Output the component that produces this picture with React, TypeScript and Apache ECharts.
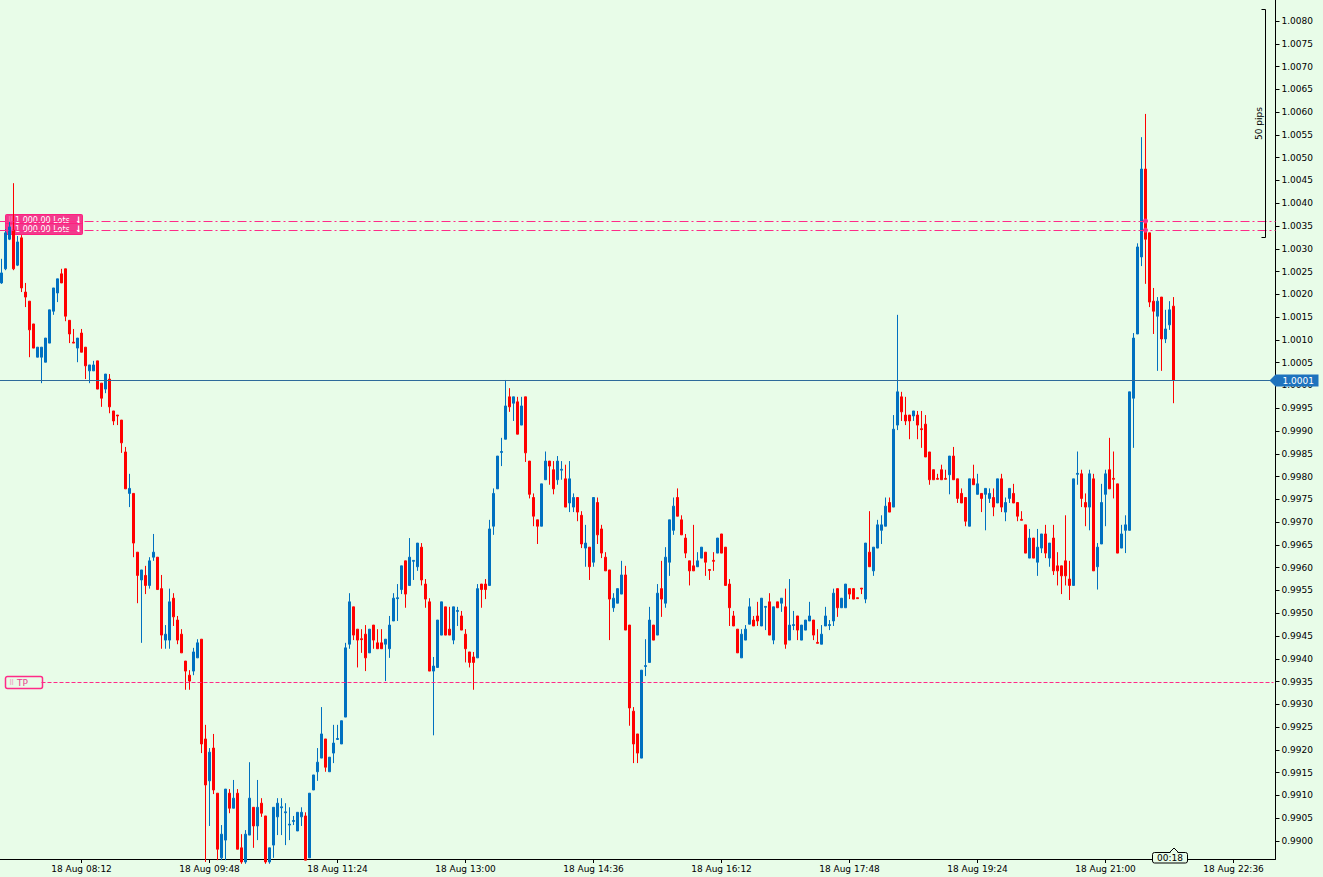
import React, { useEffect, useRef } from "react";
import * as echarts from "echarts";

// ---- axis domain ----
const sessionDate = "18 Aug";
const firstBarTime = "07:12";
const barMinutes = 3;
const slotCount = 319;
const axisMin = 0.989605;
const axisMax = 1.008461;

const xTickLabels = [
  "18 Aug 08:12", "18 Aug 09:48", "18 Aug 11:24", "18 Aug 13:00", "18 Aug 14:36",
  "18 Aug 16:12", "18 Aug 17:48", "18 Aug 19:24", "18 Aug 21:00", "18 Aug 22:36",
];

const priceTicks = [
  0.99, 0.9905, 0.991, 0.9915, 0.992, 0.9925, 0.993, 0.9935, 0.994, 0.9945,
  0.995, 0.9955, 0.996, 0.9965, 0.997, 0.9975, 0.998, 0.9985, 0.999, 0.9995,
  1.0, 1.0005, 1.001, 1.0015, 1.002, 1.0025, 1.003, 1.0035, 1.004, 1.0045,
  1.005, 1.0055, 1.006, 1.0065, 1.007, 1.0075, 1.008,
];

// ---- OHLC (3-minute bars from 07:12) ----
const open = [
  1.00225,1.00256,1.00321,1.00341,1.00264,1.00324,1.00205,1.00185,1.00135,1.00062,
  1.00062,1.00051,1.00093,1.00163,1.00203,1.00245,1.00256,1.00143,1.00095,1.00082,
  1.00115,1.00084,1.00032,1.00032,1.00054,1.00005,0.99992,1.00014,0.99944,0.99935,
  0.99924,0.99854,0.99763,0.99763,0.99634,0.99573,0.99583,0.99561,0.99623,0.99623,
  0.99554,0.99441,0.99441,0.99533,0.99485,0.99454,0.99395,0.99364,0.99373,0.99402,
  0.99443,0.99224,0.99132,0.99204,0.99105,0.98963,0.99002,0.99105,0.99072,0.99105,
  0.98985,0.98954,0.99013,0.99074,0.99033,0.99083,0.99055,0.98954,0.98991,0.99053,
  0.99073,0.99062,0.99035,0.99043,0.99022,0.99053,0.99055,0.98963,0.99112,0.99152,
  0.99182,0.99224,0.99152,0.99193,0.99223,0.99213,0.99272,0.99432,0.99514,0.99465,
  0.99444,0.99454,0.99413,0.99474,0.99435,0.99435,0.99432,0.99422,0.99483,0.99532,
  0.99552,0.99615,0.99561,0.99614,0.99602,0.99645,0.99564,0.99525,0.99373,0.99381,
  0.99452,0.99514,0.99465,0.99441,0.99504,0.99494,0.99454,0.99415,0.99404,0.99402,
  0.99564,0.99564,0.99561,0.99691,0.99773,0.99853,0.99882,0.99975,0.99961,0.99964,
  0.99913,0.99975,0.99834,0.99754,0.99705,0.99691,0.99793,0.99834,0.99815,0.99793,
  0.99814,0.99795,0.99742,0.99733,0.99754,0.99715,0.99643,0.99645,0.99612,0.99743,
  0.99685,0.99623,0.99595,0.99512,0.99522,0.99542,0.99584,0.99474,0.99285,0.99235,
  0.99182,0.99383,0.99392,0.99474,0.99452,0.99554,0.99522,0.99612,0.99682,0.99754,
  0.99705,0.99665,0.99615,0.99604,0.99602,0.99621,0.99634,0.99596,0.99616,0.99632,
  0.99674,0.99645,0.99564,0.99494,0.99465,0.99402,0.99441,0.99476,0.99485,0.99494,
  0.99472,0.99513,0.99525,0.99441,0.99525,0.99522,0.99514,0.99441,0.99473,0.99494,
  0.99441,0.99463,0.99483,0.99485,0.99436,0.99432,0.99472,0.99473,0.99483,0.99554,
  0.99512,0.99512,0.99554,0.99554,0.99534,0.99555,0.99531,0.99634,0.99593,0.99643,
  0.99682,0.99691,0.99743,0.99733,0.99913,0.99975,0.99935,0.99935,0.99933,0.99935,
  0.99905,0.99915,0.99854,0.99815,0.99796,0.99815,0.99796,0.99804,0.99845,0.99795,
  0.99763,0.99754,0.99691,0.99795,0.99761,0.99763,0.99761,0.99752,0.99754,0.99742,
  0.99795,0.99722,0.99752,0.99763,0.99743,0.99706,0.99694,0.99621,0.99665,0.99612,
  0.99643,0.99674,0.99621,0.99665,0.99604,0.99604,0.99615,0.99575,0.99561,0.99805,
  0.99806,0.99743,0.99733,0.99795,0.99602,0.99652,0.99761,0.99815,0.99796,0.99784,
  0.99643,0.99682,0.99682,0.99972,1.00113,1.00282,1.00475,1.00335,1.00185,1.00152,
  1.00194,1.00102,1.00133,1.00174,
];
const high = [
  1.00278,1.00343,1.00359,1.00444,1.00328,1.0033,1.00225,1.00185,1.00135,1.00084,
  1.00084,1.00104,1.00166,1.00214,1.00234,1.00256,1.00256,1.00143,1.00124,1.00104,
  1.00124,1.00084,1.00045,1.00054,1.00054,1.00005,1.00025,1.00025,0.99944,0.99935,
  0.99924,0.99865,0.99806,0.99763,0.99634,0.99595,0.99604,0.99623,0.99674,0.99623,
  0.99584,0.99474,0.99554,0.99544,0.99494,0.99465,0.99395,0.99375,0.99424,0.99443,
  0.99443,0.99255,0.99204,0.99235,0.99105,0.99035,0.99114,0.99114,0.99134,0.99114,
  0.99015,0.99024,0.99173,0.99074,0.99134,0.99094,0.99055,0.98985,0.99074,0.99094,
  0.99094,0.99083,0.99074,0.99055,0.99063,0.99074,0.99063,0.99105,0.99145,0.99204,
  0.99294,0.99224,0.99184,0.99255,0.99255,0.99264,0.99435,0.99544,0.99514,0.99465,
  0.99465,0.99474,0.99465,0.99474,0.99465,0.99465,0.99443,0.99494,0.99544,0.99564,
  0.99604,0.99615,0.99665,0.99616,0.99654,0.99654,0.99575,0.99533,0.99404,0.99485,
  0.99525,0.99514,0.99514,0.99514,0.99514,0.99505,0.99465,0.99415,0.99415,0.99564,
  0.99564,0.99575,0.99705,0.99774,0.99845,0.99885,1.00012,0.99994,0.99975,0.99975,
  0.99975,0.99975,0.99834,0.99763,0.99705,0.99784,0.99855,0.99834,0.99834,0.99845,
  0.99834,0.99826,0.99834,0.99763,0.99754,0.99724,0.99694,0.99645,0.99754,0.99754,
  0.99694,0.99634,0.99595,0.99544,0.99554,0.99615,0.99604,0.99474,0.99294,0.99235,
  0.99375,0.99443,0.99514,0.99474,0.99564,0.99615,0.99645,0.99705,0.99754,0.99774,
  0.99715,0.99674,0.99615,0.99694,0.99634,0.99645,0.99634,0.99596,0.99634,0.99665,
  0.99674,0.99645,0.99575,0.99505,0.99465,0.99465,0.99474,0.99533,0.99494,0.99525,
  0.99533,0.99515,0.99544,0.99514,0.99525,0.99533,0.99554,0.99575,0.99505,0.99494,
  0.99474,0.99485,0.99525,0.99485,0.99465,0.99474,0.99514,0.99485,0.99554,0.99554,
  0.99533,0.99564,0.99554,0.99554,0.99534,0.99555,0.99654,0.99724,0.99645,0.99705,
  0.99715,0.99754,0.99754,0.99935,1.00155,0.99986,0.99975,0.99935,0.99944,0.99944,
  0.99944,0.99935,0.99854,0.99815,0.99806,0.99826,0.99815,0.99845,0.99865,0.99795,
  0.99774,0.99754,0.99795,0.99826,0.99806,0.99763,0.99774,0.99774,0.99774,0.99795,
  0.99806,0.99754,0.99774,0.99784,0.99743,0.99724,0.99694,0.99685,0.99665,0.99685,
  0.99674,0.99694,0.99654,0.99694,0.99634,0.99604,0.99715,0.99615,0.99795,0.99855,
  0.99815,0.99763,0.99815,0.99806,0.99654,0.99784,0.99815,0.99885,0.99855,0.99784,
  0.99694,0.99715,0.99986,1.00115,1.00312,1.00545,1.00596,1.00335,1.00214,1.00194,
  1.00194,1.00166,1.00185,1.00194,
];
const low = [
  1.00223,1.00253,1.00319,1.00253,1.00262,1.00205,1.00172,1.00062,1.00082,1.00062,
  1.00005,1.00051,1.00093,1.00155,1.00183,1.00225,1.00141,1.00093,1.00093,1.00051,
  1.00073,1.00014,1.00005,1.00032,0.99992,0.99953,0.99983,0.99939,0.99913,0.99913,
  0.99852,0.99773,0.99733,0.99623,0.99522,0.99435,0.99542,0.99554,0.99615,0.99552,
  0.99422,0.99422,0.99422,0.99472,0.99432,0.99413,0.99332,0.99332,0.99364,0.99402,
  0.99193,0.98954,0.99033,0.99103,0.98958,0.98958,0.98958,0.99061,0.99072,0.98982,
  0.9895,0.9895,0.99013,0.98985,0.99002,0.99053,0.9895,0.9895,0.98963,0.99013,
  0.99013,0.98991,0.99002,0.99035,0.99022,0.99033,0.98958,0.98963,0.99112,0.99132,
  0.99182,0.99152,0.99152,0.99171,0.99222,0.99213,0.99272,0.99422,0.99441,0.99381,
  0.99413,0.99373,0.99413,0.99422,0.99422,0.99422,0.99351,0.99402,0.99483,0.99483,
  0.99542,0.99512,0.99561,0.99573,0.99593,0.99561,0.99512,0.99373,0.99232,0.99381,
  0.99452,0.99452,0.99452,0.99432,0.99472,0.99463,0.99392,0.99381,0.99332,0.99402,
  0.99512,0.99531,0.99561,0.99672,0.99773,0.99823,0.99882,0.99942,0.99922,0.99893,
  0.99913,0.99832,0.99752,0.99691,0.99652,0.99691,0.99793,0.99782,0.99761,0.99782,
  0.99793,0.99733,0.99722,0.99722,0.99702,0.99643,0.99602,0.99573,0.99602,0.99652,
  0.99621,0.99593,0.99441,0.99503,0.99522,0.99542,0.99463,0.99253,0.99171,0.99171,
  0.99182,0.99362,0.99392,0.99441,0.99452,0.99492,0.99512,0.99582,0.99672,0.99713,
  0.99672,0.99621,0.99561,0.99593,0.99602,0.99621,0.99582,0.99573,0.99593,0.99632,
  0.99632,0.99561,0.99472,0.99472,0.99413,0.99402,0.99441,0.99476,0.99472,0.99472,
  0.99472,0.99463,0.99452,0.99432,0.99512,0.99503,0.99422,0.99441,0.99463,0.99441,
  0.99441,0.99463,0.99483,0.99441,0.99434,0.99432,0.99472,0.99463,0.99472,0.99492,
  0.99512,0.99512,0.99531,0.99531,0.99532,0.99542,0.99522,0.99602,0.99582,0.99643,
  0.99652,0.99691,0.99722,0.99733,0.99902,0.99922,0.99913,0.99882,0.99922,0.99882,
  0.99863,0.99843,0.99782,0.99793,0.99794,0.99793,0.99794,0.99761,0.99793,0.99742,
  0.99742,0.99691,0.99691,0.99782,0.99761,0.99722,0.99682,0.99742,0.99713,0.99742,
  0.99722,0.99702,0.99742,0.99742,0.99702,0.99704,0.99632,0.99621,0.99621,0.99582,
  0.99632,0.99621,0.99602,0.99584,0.99561,0.99542,0.99561,0.99529,0.99561,0.99782,
  0.99733,0.99691,0.99682,0.99593,0.99552,0.99652,0.99691,0.99773,0.99752,0.99632,
  0.99643,0.99632,0.99682,0.99863,1.00113,1.00262,1.00223,1.00172,1.00113,1.00032,
  1.00032,1.00093,1.00122,0.99961,
];
const close = [
  1.00247,1.00335,1.00348,1.00256,1.00315,1.00214,1.00194,1.00122,1.00082,1.00084,
  1.00084,1.00104,1.00166,1.00214,1.00234,1.00225,1.00152,1.00113,1.00093,1.00104,
  1.00073,1.00043,1.00045,1.00045,0.99992,0.99972,1.00025,0.99953,0.99922,0.99933,
  0.99874,0.99773,0.99774,0.99654,0.99583,0.99595,0.99561,0.99615,0.99634,0.99552,
  0.99452,0.99454,0.99525,0.99492,0.99441,0.99413,0.99373,0.99351,0.99415,0.99435,
  0.99213,0.99123,0.99195,0.99112,0.98982,0.99015,0.99114,0.99072,0.99094,0.98982,
  0.98954,0.99015,0.99094,0.99033,0.99074,0.99061,0.98954,0.98985,0.99074,0.99083,
  0.99075,0.99064,0.99037,0.99045,0.99063,0.99063,0.98958,0.99105,0.99145,0.99173,
  0.99235,0.99162,0.99184,0.99215,0.99225,0.99264,0.99424,0.99525,0.99452,0.99441,
  0.99442,0.99402,0.99465,0.99441,0.99422,0.99422,0.99443,0.99474,0.99533,0.99534,
  0.99604,0.99542,0.99623,0.99616,0.99654,0.99573,0.99531,0.99373,0.99384,0.99485,
  0.99525,0.99452,0.99452,0.99514,0.99506,0.99463,0.99422,0.99392,0.99392,0.99554,
  0.99552,0.99552,0.99685,0.99763,0.99845,0.99855,0.99955,0.99953,0.99975,0.99893,
  0.99955,0.99852,0.99761,0.99713,0.99691,0.99784,0.99834,0.99823,0.99773,0.99834,
  0.99816,0.99733,0.99795,0.99754,0.99722,0.99652,0.99654,0.99602,0.99754,0.99672,
  0.99632,0.99593,0.99531,0.99533,0.99554,0.99584,0.99463,0.99292,0.99213,0.99193,
  0.99375,0.99385,0.99485,0.99441,0.99544,0.99531,0.99623,0.99705,0.99735,0.99713,
  0.99672,0.99632,0.99593,0.99593,0.99615,0.99645,0.99612,0.99594,0.99614,0.99665,
  0.99632,0.99561,0.99512,0.99472,0.99413,0.99454,0.99465,0.99514,0.99472,0.99483,
  0.99533,0.99515,0.99452,0.99514,0.99512,0.99533,0.99432,0.99474,0.99475,0.99463,
  0.99474,0.99485,0.99494,0.99452,0.99434,0.99454,0.99494,0.99475,0.99544,0.99512,
  0.99533,0.99564,0.99542,0.99531,0.99532,0.99553,0.99654,0.99602,0.99645,0.99694,
  0.99694,0.99735,0.99722,0.99904,0.99986,0.99942,0.99922,0.99922,0.99944,0.99913,
  0.99903,0.99843,0.99793,0.99793,0.99794,0.99793,0.99794,0.99845,0.99793,0.99752,
  0.99742,0.99702,0.99795,0.99782,0.99784,0.99752,0.99774,0.99763,0.99733,0.99795,
  0.99733,0.99743,0.99774,0.99742,0.99713,0.99704,0.99632,0.99665,0.99621,0.99645,
  0.99674,0.99632,0.99654,0.99593,0.99593,0.99582,0.99582,0.99561,0.99795,0.99807,
  0.99752,0.99733,0.99806,0.99593,0.99645,0.99743,0.99806,0.99773,0.99794,0.99632,
  0.99674,0.99694,0.99986,1.00104,1.00304,1.00475,1.00321,1.00183,1.00163,1.00185,
  1.00102,1.00124,1.00166,1.00011,
];

// ---- levels and annotations ----
const bidPrice = 1.00011;
const bidText = "1.0001";
const lotsLevels = [1.00361, 1.00341];
const lotsText = "1 000.00 Lots";
const lotsArrow = "\u2193";
const entryBar = "18 Aug 21:30";
const tpPrice = 0.99349;
const tpText = "TP";
const tpStartBar = "18 Aug 07:42";
const pipsRuler = [1.00826, 1.00326];
const pipsRulerText = "50 pips";
const countdownText = "00:18";
const lastBar = "18 Aug 21:51";

const FONT = "DejaVu Sans";
const BG = "#E8FCE8";
const BLUE = "#0070C0";
const RED = "#FF0000";
const PINK = "#FF2A88";
const BIDLINE = "#2D6A9A";
const BIDLABEL = "#1E73BE";
const GRID_LEFT = -0.5;
const GRID_W = 1276;
const GRID_H = 859;
const AXIS_X = GRID_LEFT + GRID_W;

function buildCategories(): string[] {
  const [h, m] = firstBarTime.split(":").map(Number);
  const out: string[] = [];
  for (let i = 0; i < slotCount; i++) {
    const t = h * 60 + m + i * barMinutes;
    const hh = String(Math.floor(t / 60) % 24).padStart(2, "0");
    const mm = String(t % 60).padStart(2, "0");
    out.push(`${sessionDate} ${hh}:${mm}`);
  }
  return out;
}

export default function App() {
  const ref = useRef<HTMLDivElement>(null);

  useEffect(() => {
    document.body.style.margin = "0";
    const el = ref.current!;
    const chart = echarts.init(el, null, { renderer: "svg" });
    const categories = buildCategories();
    const showTick = (_i: number, v: string) => xTickLabels.includes(v);

    chart.setOption({
      animation: false,
      backgroundColor: BG,
      grid: { left: GRID_LEFT, top: 0, width: GRID_W, height: GRID_H, containLabel: false, outerBoundsMode: "none" },
      xAxis: {
        type: "category",
        data: categories,
        boundaryGap: true,
        axisLine: { show: true, lineStyle: { color: "#000", width: 1 } },
        axisTick: { show: true, alignWithLabel: true, length: 4, interval: showTick, lineStyle: { color: "#000" } },
        axisLabel: { interval: showTick, color: "#000", fontFamily: FONT, fontSize: 9, margin: 5 },
        splitLine: { show: false },
      },
      yAxis: {
        type: "value",
        position: "right",
        min: axisMin,
        max: axisMax,
        axisLine: { show: true, onZero: false, lineStyle: { color: "#000", width: 1 } },
        axisTick: { show: true, length: 4, customValues: priceTicks, lineStyle: { color: "#000" } },
        axisLabel: {
          customValues: priceTicks,
          formatter: (v: number) => v.toFixed(4),
          color: "#000",
          fontFamily: FONT,
          fontSize: 9,
          margin: 6,
        },
        splitLine: { show: false },
      },
      series: [
        {
          type: "candlestick",
          clip: true,
          barWidth: 2,
          data: open.map((o, i) => [o, close[i], low[i], high[i]]),
          itemStyle: { color: BLUE, color0: RED, borderColor: BLUE, borderColor0: RED, borderWidth: 1 },
          markLine: {
            silent: true,
            precision: 6,
            symbol: ["none", "none"],
            label: { show: false },
            data: [
              { yAxis: lotsLevels[0], lineStyle: { color: PINK, width: 1, type: [9, 3, 2, 3] } },
              { yAxis: lotsLevels[1], lineStyle: { color: PINK, width: 1, type: [9, 3, 2, 3] } },
              [
                { coord: [tpStartBar, tpPrice], lineStyle: { color: PINK, width: 1, type: [4, 2] } },
                { coord: [categories[slotCount - 1], tpPrice] },
              ],
              { yAxis: bidPrice, lineStyle: { color: BIDLINE, width: 1, type: "solid" } },
            ],
          },
          markPoint: {
            silent: true,
            symbol: "circle",
            symbolSize: 5,
            label: { show: false },
            itemStyle: { color: PINK },
            data: lotsLevels.map((v) => ({ coord: [entryBar, v] })),
          },
        },
      ],
    });

    const yPx = (v: number) => chart.convertToPixel({ yAxisIndex: 0 }, v) as number;
    const xPx = (c: string) => chart.convertToPixel({ xAxisIndex: 0 }, c) as number;

    const lotsGraphics = lotsLevels.map((v) => {
      const y = Math.round(yPx(v));
      return {
        type: "group",
        x: 5,
        y: y - 7,
        z: 100,
        children: [
          { type: "rect", shape: { x: 0.5, y: 0.5, width: 77, height: 11, r: 1 }, style: { fill: "#F23A8C", stroke: "#FF1F80", lineWidth: 1 } },
          { type: "text", x: 3, y: 6, style: { text: "\u283F", fill: "#FFA6CC", fontSize: 7, fontFamily: FONT, verticalAlign: "middle" } },
          { type: "text", x: 10, y: 6, style: { text: lotsText, fill: "#FFFFFF", fontSize: 8, fontFamily: FONT, verticalAlign: "middle" } },
          { type: "text", x: 70, y: 6, style: { text: lotsArrow, fill: "#FFFFFF", fontSize: 9, fontWeight: "bold", fontFamily: FONT, verticalAlign: "middle" } },
        ],
      };
    });

    const yTp = Math.round(yPx(tpPrice));
    const yBid = Math.round(yPx(bidPrice)) + 0.5;
    const yTop = Math.round(yPx(pipsRuler[0])) + 0.5;
    const yBot = Math.round(yPx(pipsRuler[1])) + 0.5;
    const cx = Math.round(xPx(lastBar));
    const rulerX = Math.round(AXIS_X) - 10.5;

    chart.setOption({
      graphic: [
        ...lotsGraphics,
        {
          type: "group",
          x: 5,
          y: yTp - 6,
          z: 100,
          children: [
            { type: "rect", shape: { x: 0.5, y: 0.5, width: 37, height: 12, r: 2 }, style: { fill: BG, stroke: PINK, lineWidth: 1.5 } },
            { type: "text", x: 4, y: 7, style: { text: "\u283F", fill: "#F06AA8", fontSize: 7, fontFamily: FONT, verticalAlign: "middle" } },
            { type: "text", x: 12, y: 7, style: { text: tpText, fill: "#E8418F", fontSize: 9, fontFamily: FONT, verticalAlign: "middle" } },
          ],
        },
        {
          type: "polygon",
          z: 100,
          shape: { points: [[AXIS_X - 6, yBid], [AXIS_X, yBid - 6], [AXIS_X + 43, yBid - 6], [AXIS_X + 43, yBid + 6], [AXIS_X, yBid + 6]] },
          style: { fill: BIDLABEL },
        },
        {
          type: "text",
          z: 101,
          x: AXIS_X + 7,
          y: yBid,
          style: { text: bidText, fill: "#FFFFFF", fontSize: 9, fontFamily: FONT, verticalAlign: "middle" },
        },
        {
          type: "polyline",
          z: 100,
          shape: { points: [[rulerX - 4, yTop], [rulerX, yTop], [rulerX, yBot], [rulerX - 4, yBot]] },
          style: { stroke: "#000", lineWidth: 1, fill: null },
        },
        {
          type: "text",
          z: 100,
          x: rulerX - 7,
          y: (yTop + yBot) / 2,
          rotation: Math.PI / 2,
          style: { text: pipsRulerText, fill: "#000", fontSize: 9, fontFamily: FONT, align: "center", verticalAlign: "middle" },
        },
        {
          type: "rect",
          z: 100,
          shape: { x: cx - 21.5, y: 852.5, width: 35, height: 10.5, r: 2 },
          style: { fill: BG, stroke: "#000", lineWidth: 1 },
        },
        {
          type: "polygon",
          z: 101,
          shape: { points: [[cx - 4, 853], [cx, 848.5], [cx + 4, 853]] },
          style: { fill: BG },
        },
        {
          type: "polyline",
          z: 102,
          shape: { points: [[cx - 4.5, 852.5], [cx, 848], [cx + 4.5, 852.5]] },
          style: { stroke: "#000", lineWidth: 1, fill: null },
        },
        {
          type: "text",
          z: 102,
          x: cx - 4,
          y: 858,
          style: { text: countdownText, fill: "#000", fontSize: 9, fontFamily: FONT, align: "center", verticalAlign: "middle" },
        },
      ],
    });

    return () => chart.dispose();
  }, []);

  return (
    <div
      ref={ref}
      style={{ position: "fixed", left: 0, top: 0, width: 1323, height: 877, background: BG }}
    />
  );
}
